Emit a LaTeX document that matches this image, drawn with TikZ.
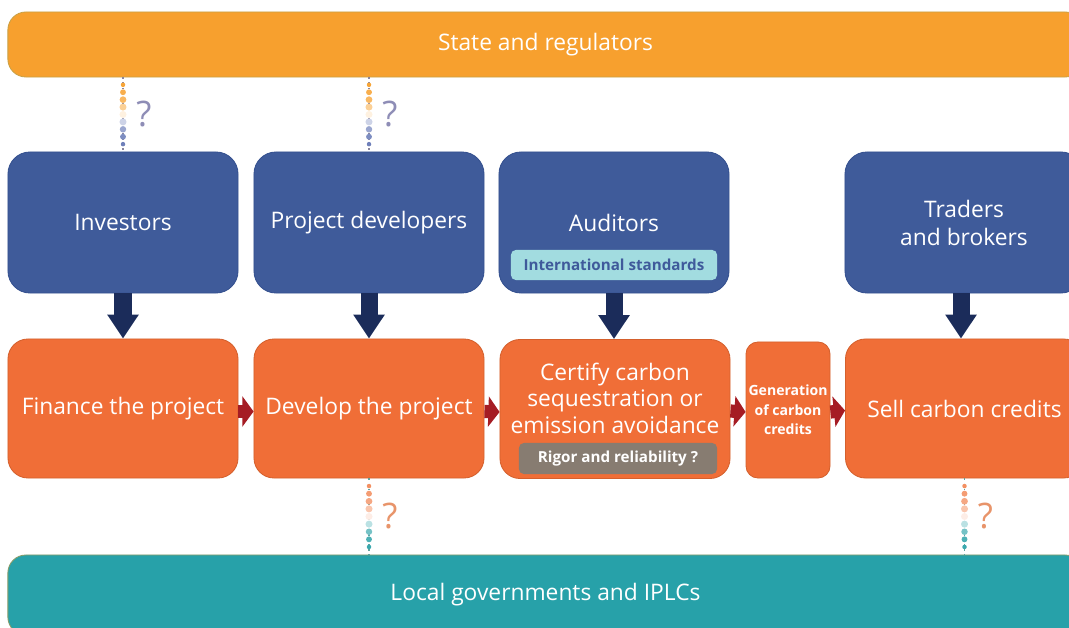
\documentclass[tikz,border=0pt]{standalone}
\usepackage{fontspec}
\setmainfont{Open Sans}
\usetikzlibrary{calc,arrows.meta}
\definecolor{barorange}{HTML}{F7A02E}
\definecolor{barline}{HTML}{C9A045}
\definecolor{actorblue}{HTML}{3F5B9A}
\definecolor{actorline}{HTML}{34508F}
\definecolor{taskorange}{HTML}{F06E37}
\definecolor{taskline}{HTML}{D4602D}
\definecolor{localteal}{HTML}{27A1A9}
\definecolor{localline}{HTML}{8A9C68}
\definecolor{navy}{HTML}{1B2C5A}
\definecolor{darkred}{HTML}{A51C24}
\definecolor{stdcyan}{HTML}{A2DCE0}
\definecolor{stdtext}{HTML}{3F5A9B}
\definecolor{riggray}{HTML}{877C71}
\definecolor{dotblue}{HTML}{6F80BA}
\definecolor{dotsalmon}{HTML}{F28A5A}
\definecolor{dotteal}{HTML}{3AA8AE}
\definecolor{askblue}{HTML}{8E8DB6}
\definecolor{asksalmon}{HTML}{E8946A}
\tikzset{
  bar/.style={rounded corners=0.45cm,line width=0.6pt,minimum width=26.875cm,inner sep=0pt,text=white,font=\fontsize{16.2}{19}\selectfont},
  actor/.style={fill=actorblue,draw=actorline,line width=0.6pt,rounded corners=0.55cm,minimum width=5.75cm,minimum height=3.525cm,inner sep=0pt,text=white,align=center,font=\fontsize{16.2}{19.9}\selectfont},
  task/.style={fill=taskorange,draw=taskline,line width=0.6pt,rounded corners=0.5cm,minimum width=5.75cm,minimum height=3.475cm,inner sep=0pt,text=white,align=center,font=\fontsize{16.2}{18.8}\selectfont},
  tag/.style={rounded corners=0.12cm,inner sep=0pt,font=\fontsize{10.8}{12}\bfseries},
  navyarrow/.style={navy,line width=0.425cm,-{Triangle[length=0.6cm,width=0.75cm]}},
  redarrow/.style={darkred,line width=0.33cm,-{Triangle[length=0.28cm,width=0.75cm]}},
  ask/.style={font=\fontsize{25}{25}\selectfont}
}
\begin{document}
\begin{tikzpicture}[x=0.025cm,y=-0.025cm]
  \clip (0,0) rectangle (1069,628);
  % bars
  \node[bar,fill=barorange,draw=barline,minimum height=1.625cm](state) at (545.5,44.5) {State and regulators};
  \node[bar,fill=localteal,draw=localline,minimum height=2cm](local) at (545.5,595) {Local governments and IPLCs};
  % actors
  \node[actor](inv) at (123,222.5) {Investors};
  \node[actor](devl) at (369,222.5) {Project developers};
  \node[actor](aud) at (614,222.5) {Auditors};
  \node[actor,minimum width=5.95cm](trd) at (964,222.5) {Traders\\and brokers};
  \node[tag,fill=stdcyan,text=stdtext,minimum width=5.15cm,minimum height=0.75cm](std) at (614,265) {International standards};
  % tasks
  \node[task](fin) at (123,408.5) {Finance the project};
  \node[task](devp) at (369,408.5) {Develop the project};
  \node[task](cert) at (615,409) {};
  \node[text=white,align=center,font=\fontsize{16.2}{18.8}\selectfont](certtext) at ($(cert.center)+(0,-11)$) {Certify carbon\\sequestration or\\emission avoidance};
  \node[tag,fill=riggray,text=white,minimum width=4.95cm,minimum height=0.775cm](rig) at (618,458.5) {Rigor and reliability ?};
  \node[task,minimum width=2.1cm,minimum height=3.4cm,rounded corners=0.3cm,font=\fontsize{10}{13.9}\bfseries](gen) at (788,410) {Generation\\of carbon\\credits};
  \node[task,minimum width=5.95cm](sell) at (964.5,408.5) {Sell carbon credits};
  % arrows
  \draw[navyarrow] (inv.south) -- (fin.north);
  \draw[navyarrow] (devl.south) -- (devp.north);
  \draw[navyarrow] (aud.south) -- (aud.south |- cert.north);
  \draw[navyarrow] ($(trd.south)+(-3,0)$) -- ($(trd.south |- sell.north)+(-3,0)$);
  \draw[redarrow] ($(fin.east)+(0,3)$) -- ($(devp.west)+(0,3)$);
  \draw[redarrow] ($(devp.east)+(0,3)$) -- ($(cert.west)+(0,3)$);
  \draw[redarrow] ($(cert.east)+(0,2)$) -- ($(gen.west)+(0,2)$);
  \draw[redarrow] ($(gen.east)+(0,2)$) -- ($(sell.west)+(0,2)$);
  % dotted links with question marks
  \foreach \col/\up/\down/\ca/\cb/\q [count=\i] in {inv/state/inv/barorange/dotblue/askblue,devl/state/devl/barorange/dotblue/askblue,devp/devp/local/dotsalmon/dotteal/asksalmon,sell/sell/local/dotsalmon/dotteal/asksalmon}{
    \coordinate (a) at (\col.center |- \up.south);
    \coordinate (b) at (\col.center |- \down.north);
    \draw[\cb!80!\ca,line width=1pt,dash pattern=on 1pt off 2.6pt] (a) -- (b);
    \foreach \t/\c/\r in {0.1/\ca!95/1.6,0.2/\ca!85/2.1,0.3/\ca!75/2.4,0.4/\ca!50/2.5,0.5/\ca!15/2.5,0.6/\cb!35/2.5,0.7/\cb!70/2.3,0.8/\cb!90/2.1,0.9/\cb/1.6}
      \fill[\c] ($(a)!\t!(b)$) circle[radius=\r pt];
    \node[ask,text=\q](ask\i) at ($(a)!0.5!(b)+(21,0)$) {?};
  }
\end{tikzpicture}
\end{document}
